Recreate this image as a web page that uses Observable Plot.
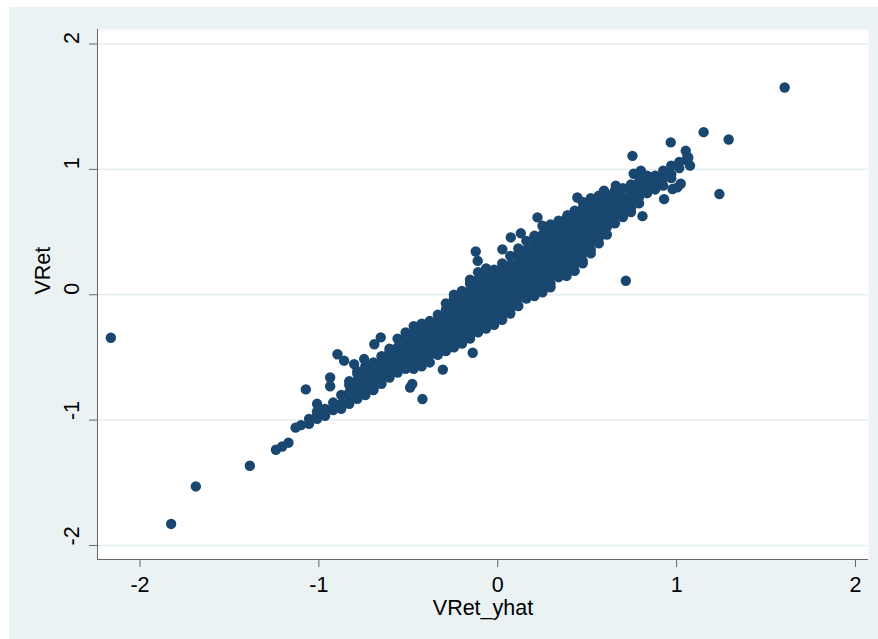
<!DOCTYPE html>
<html><head><meta charset="utf-8">
<script src="https://cdn.jsdelivr.net/npm/d3@7"></script>
<script src="https://cdn.jsdelivr.net/npm/@observablehq/plot@0.6"></script>
<style>
html,body{margin:0;padding:0;background:#fff;}
#chart{position:absolute;left:9px;top:7px;}
</style></head><body><div id="chart"></div>
<script>
const xTicks = [-2, -1, 0, 1, 2];
const yTicks = [-2, -1, 0, 1, 2];
const xTitle = "VRet_yhat";
const yTitle = "VRet";

// dense cloud: [VRet_yhat, [VRet values...]]
const cloudColumns = [
  [-1.10, [-1.04]],
  [-1.055, [-0.99, -1.03]],
  [-1.01, [-0.93, -0.96, -0.99]],
  [-0.965, [-0.91, -0.965]],
  [-0.92, [-0.86, -0.90, -0.92]],
  [-0.875, [-0.80, -0.87, -0.91]],
  [-0.83, [-0.69, -0.72, -0.78, -0.84, -0.87]],
  [-0.785, [-0.61, -0.63, -0.69, -0.75, -0.81, -0.83]],
  [-0.74, [-0.57, -0.60, -0.66, -0.72, -0.78, -0.80]],
  [-0.695, [-0.54, -0.57, -0.63, -0.69, -0.75, -0.76]],
  [-0.65, [-0.49, -0.54, -0.60, -0.66, -0.71]],
  [-0.605, [-0.43, -0.45, -0.51, -0.57, -0.63, -0.66]],
  [-0.56, [-0.35, -0.42, -0.48, -0.54, -0.60, -0.62]],
  [-0.515, [-0.30, -0.33, -0.39, -0.45, -0.51, -0.57, -0.59]],
  [-0.47, [-0.25, -0.30, -0.36, -0.42, -0.48, -0.54, -0.59]],
  [-0.425, [-0.23, -0.27, -0.33, -0.39, -0.45, -0.51, -0.57]],
  [-0.38, [-0.21, -0.24, -0.30, -0.36, -0.42, -0.48, -0.54]],
  [-0.335, [-0.16, -0.21, -0.27, -0.33, -0.39, -0.45, -0.48]],
  [-0.29, [-0.07, -0.12, -0.18, -0.24, -0.30, -0.36, -0.42, -0.45]],
  [-0.245, [0.00, -0.03, -0.09, -0.15, -0.21, -0.27, -0.33, -0.39, -0.42]],
  [-0.20, [0.03, 0.00, -0.06, -0.12, -0.18, -0.24, -0.30, -0.36, -0.39]],
  [-0.155, [0.12, 0.09, 0.03, -0.03, -0.09, -0.15, -0.21, -0.27, -0.33, -0.35]],
  [-0.11, [0.18, 0.12, 0.06, 0.00, -0.06, -0.12, -0.18, -0.24, -0.30]],
  [-0.065, [0.21, 0.15, 0.09, 0.03, -0.03, -0.09, -0.15, -0.21, -0.27]],
  [-0.02, [0.20, 0.18, 0.12, 0.06, 0.00, -0.06, -0.12, -0.18, -0.24]],
  [0.025, [0.25, 0.21, 0.15, 0.09, 0.03, -0.03, -0.09, -0.15, -0.20]],
  [0.07, [0.31, 0.24, 0.18, 0.12, 0.06, 0.00, -0.06, -0.12, -0.15]],
  [0.115, [0.37, 0.33, 0.27, 0.21, 0.15, 0.09, 0.03, -0.03, -0.09]],
  [0.16, [0.43, 0.36, 0.30, 0.24, 0.18, 0.12, 0.06, 0.00, -0.03]],
  [0.205, [0.47, 0.45, 0.39, 0.33, 0.27, 0.21, 0.15, 0.09, 0.03, -0.01]],
  [0.25, [0.55, 0.48, 0.42, 0.36, 0.30, 0.24, 0.18, 0.12, 0.06, 0.02]],
  [0.295, [0.56, 0.51, 0.45, 0.39, 0.33, 0.27, 0.21, 0.15, 0.09, 0.06]],
  [0.34, [0.59, 0.54, 0.48, 0.42, 0.36, 0.30, 0.24, 0.18, 0.14]],
  [0.385, [0.61, 0.57, 0.51, 0.45, 0.39, 0.33, 0.27, 0.21, 0.15]],
  [0.43, [0.67, 0.60, 0.54, 0.48, 0.42, 0.36, 0.30, 0.24, 0.19]],
  [0.475, [0.74, 0.69, 0.63, 0.57, 0.51, 0.45, 0.39, 0.33, 0.27, 0.25]],
  [0.52, [0.77, 0.72, 0.66, 0.60, 0.54, 0.48, 0.42, 0.36, 0.33]],
  [0.565, [0.79, 0.75, 0.69, 0.63, 0.57, 0.51, 0.45, 0.41]],
  [0.61, [0.80, 0.78, 0.72, 0.66, 0.60, 0.54, 0.48]],
  [0.655, [0.83, 0.81, 0.75, 0.69, 0.63, 0.57]],
  [0.70, [0.85, 0.78, 0.72, 0.66, 0.62]],
  [0.745, [0.88, 0.81, 0.75, 0.69, 0.66]],
  [0.79, [0.94, 0.90, 0.84, 0.78, 0.73]],
  [0.835, [0.95, 0.93, 0.87, 0.81]],
  [0.88, [0.95, 0.90, 0.84]],
  [0.925, [0.99, 0.93, 0.87]],
  [0.97, [1.03, 0.96, 0.93]],
  [1.015, [1.06, 1.01]],
  [1.06, [1.10, 1.07]]
];

// scattered points: [VRet_yhat, VRet]
const outliers = [
  [-2.163, -0.343], [-1.826, -1.828], [-1.688, -1.529], [-1.386, -1.364],
  [-1.24, -1.236], [-1.205, -1.21], [-1.17, -1.18], [-1.13, -1.06],
  [-1.073, -0.755], [-1.01, -0.87], [-0.937, -0.66], [-0.937, -0.73],
  [-0.896, -0.475], [-0.859, -0.526], [-0.803, -0.553], [-0.747, -0.513],
  [-0.69, -0.395], [-0.654, -0.34], [-0.49, -0.74], [-0.478, -0.712],
  [-0.421, -0.832], [-0.307, -0.597], [-0.14, -0.463],
  [-0.123, 0.345], [-0.112, 0.27], [0.026, 0.362], [0.073, 0.457],
  [0.129, 0.49], [0.222, 0.617], [0.39, 0.635], [0.445, 0.776],
  [0.594, 0.83], [0.66, 0.87], [0.76, 0.965], [0.80, 0.99],
  [0.716, 0.112], [0.809, 0.627], [0.753, 1.108], [0.93, 0.763],
  [0.977, 0.843], [1.004, 0.856], [1.023, 0.885], [0.967, 1.215],
  [1.051, 1.148], [1.065, 1.095], [1.075, 1.03],
  [1.151, 1.297], [1.291, 1.238], [1.239, 0.803], [1.604, 1.653]
];

const points = [];
for (const [x, ys] of cloudColumns) for (const y of ys) points.push({vretYhat: x, vret: y});
for (const [x, y] of outliers) points.push({vretYhat: x, vret: y});

const xDomain = [-2.2376, 2.0727];
const yDomain = [-2.1117, 2.1156];
const font = "Arial, 'Liberation Sans', sans-serif";
const fs = 21.5;

const chart = Plot.plot({
  width: 869, height: 632,
  marginLeft: 88, marginTop: 22, marginRight: 10, marginBottom: 80,
  style: {background: "#eaf2f3", fontFamily: font, fontSize: fs + "px", color: "#000"},
  x: {domain: xDomain},
  y: {domain: yDomain},
  marks: [
    Plot.frame({fill: "white", stroke: "none"}),
    Plot.ruleY(yTicks, {stroke: "#e4eef0", strokeWidth: 1.5}),
    Plot.dot(points, {x: "vretYhat", y: "vret", r: 5.2, fill: "#1a476f", stroke: "none"}),
    Plot.ruleX([xDomain[0]], {stroke: "#666"}),
    Plot.ruleY([yDomain[0]], {stroke: "#666"}),
    Plot.axisX({ticks: xTicks, tickSize: 8, stroke: "#666", tickFormat: () => "", label: null}),
    Plot.axisY({ticks: yTicks, tickSize: 8, stroke: "#666", tickFormat: () => "", label: null}),
    Plot.text(xTicks, {x: d => d, text: d => String(d), frameAnchor: "bottom", dy: 26, fontSize: fs, lineAnchor: "middle", fill: "#000"}),
    Plot.text(yTicks, {y: d => d, text: d => String(d), frameAnchor: "left", dx: -25.5, rotate: -90, fontSize: fs, lineAnchor: "middle", fill: "#000"}),
    Plot.text([xTitle], {text: d => d, frameAnchor: "bottom", dy: 48.5, fontSize: fs, lineAnchor: "middle", fill: "#000"}),
    Plot.text([yTitle], {text: d => d, frameAnchor: "left", dx: -54.5, rotate: -90, fontSize: fs, lineAnchor: "middle", fill: "#000"})
  ]
});
document.getElementById("chart").appendChild(chart);
</script>
</body></html>
